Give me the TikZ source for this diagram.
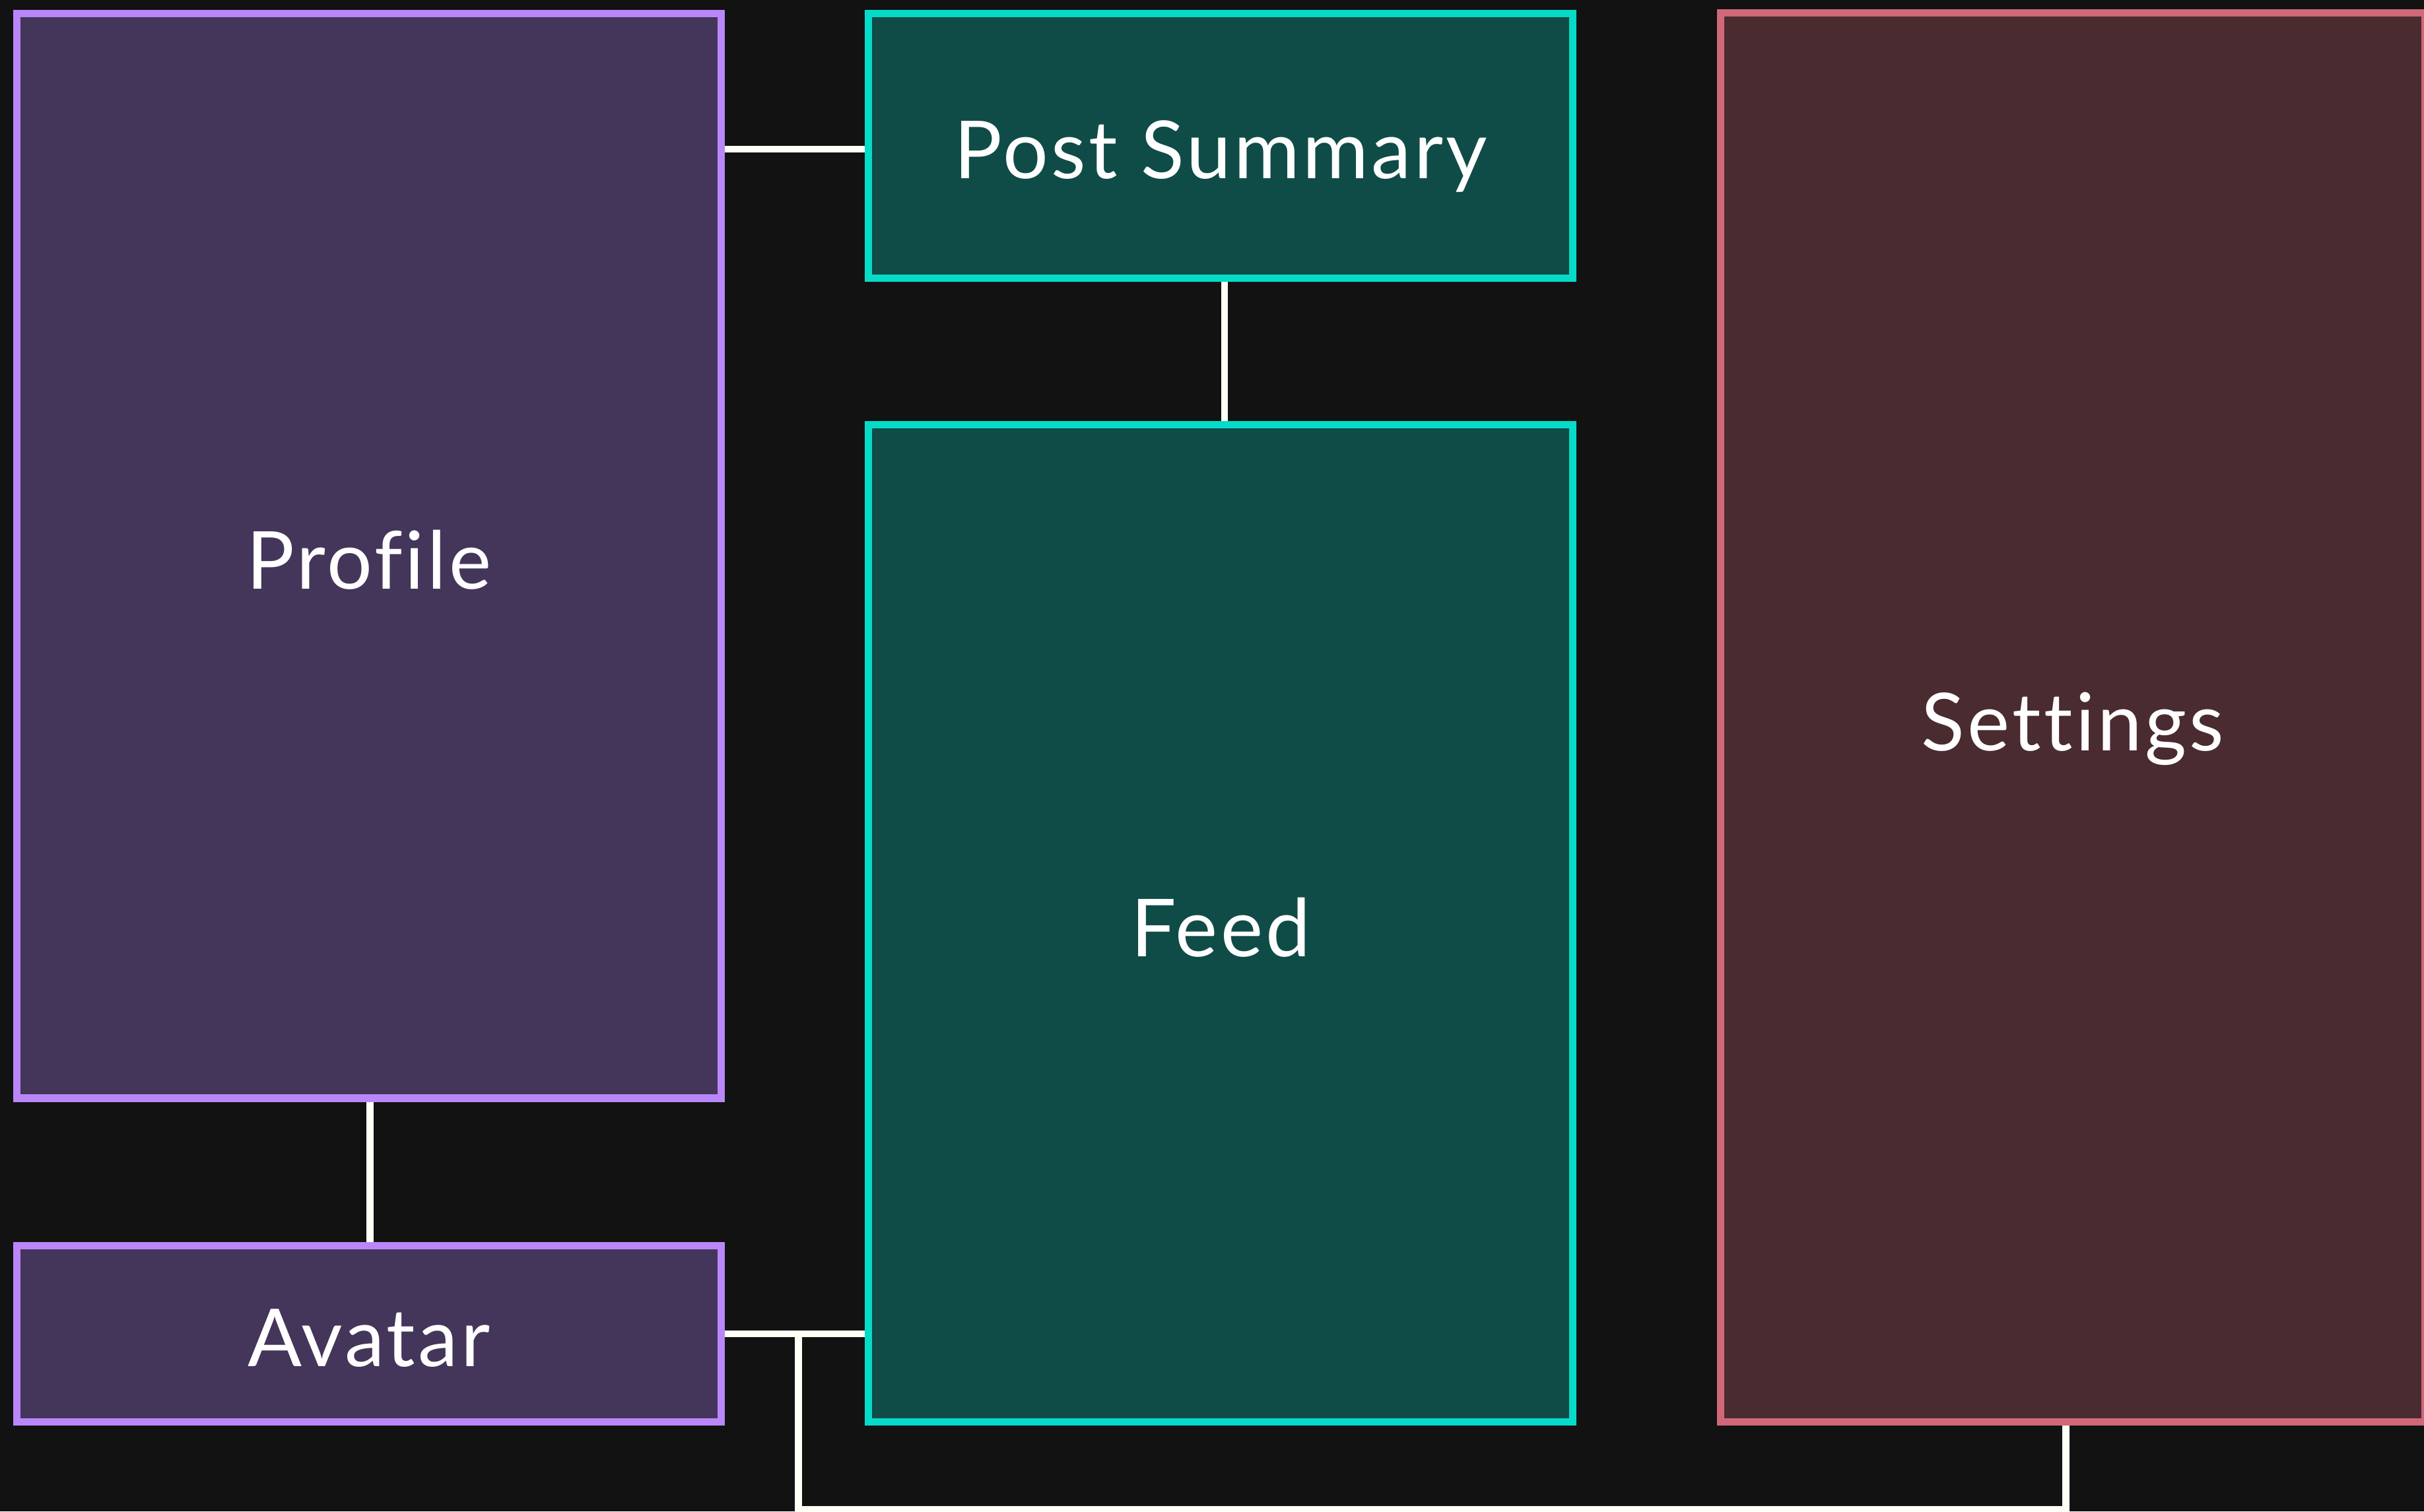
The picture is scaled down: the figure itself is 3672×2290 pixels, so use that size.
\documentclass[tikz,border=0pt]{standalone}
\usepackage{fontspec}
\setmainfont[Ligatures=NoCommon, LetterSpace=3.5]{Lato}
\usetikzlibrary{calc}

\definecolor{canvas}{HTML}{121212}
\definecolor{violetfill}{HTML}{44355A}
\definecolor{violetline}{HTML}{B987FA}
\definecolor{tealfill}{HTML}{0F4C47}
\definecolor{tealline}{HTML}{05DBC8}
\definecolor{rosefill}{HTML}{4A2B30}
\definecolor{roseline}{HTML}{D0687A}
\definecolor{wire}{HTML}{FFFFF5}

\tikzset{
  panel/.style={draw, rectangle, line width=0.11cm, minimum width=10.665cm,
    text=white, font=\fontsize{34.5}{40}\selectfont,
    text height=1.0cm, text depth=0pt, inner sep=0pt},
  violetpanel/.style={panel, fill=violetfill, draw=violetline},
  tealpanel/.style={panel, fill=tealfill, draw=tealline},
  rosepanel/.style={panel, fill=rosefill, draw=roseline},
  link/.style={draw=wire, line width=0.105cm}
}

\begin{document}
\begin{tikzpicture}[x=0.01cm, y=-0.01cm]
  \useasboundingbox (0,0) rectangle (3672,2290);
  \clip (0,0) rectangle (3672,2290);
  \fill[canvas] (0,0) rectangle (3672,2290);

  % left column
  \node[violetpanel, minimum height=16.43cm] (profile) at (558.75,842) {Profile};
  \node[violetpanel, minimum height=2.665cm] (avatar) at (558.75,2020.75) {Avatar};

  % middle column
  \node[tealpanel, minimum height=4.005cm] (summary) at (1849.25,220.75) {Post Summary};
  \node[tealpanel, minimum height=15.10cm] (feed) at (1849.25,1399) {Feed};

  % right column
  \node[rosepanel, minimum height=21.335cm, minimum width=10.67cm] (settings) at (3140,1087.25) {Settings};

  % connectors
  \coordinate (junction) at (1209.5,2021);
  \coordinate (bus) at (0,2287);

  \draw[link] ([yshift=-0.05cm]summary.west) -- ([yshift=-0.05cm]summary.west -| profile.east);
  \draw[link] ([xshift=0.055cm]summary.south) -- ([xshift=0.055cm]feed.north);
  \draw[link] ([xshift=0.015cm]profile.south) -- ([xshift=0.015cm]avatar.north);
  \draw[link] (avatar.east) -- (avatar.east -| feed.west);
  \draw[link] ([xshift=-0.105cm]settings.south) -- ([xshift=-0.105cm]settings.south |- bus)
    -- (junction |- bus) -- (junction);
\end{tikzpicture}
\end{document}
